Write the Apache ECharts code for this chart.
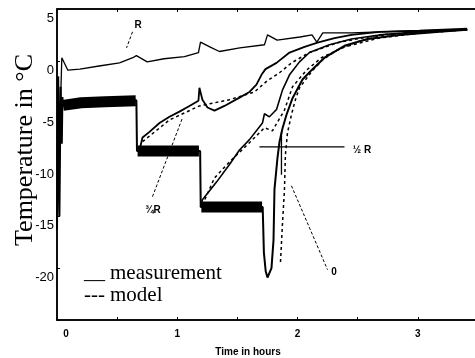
<!DOCTYPE html>
<html>
<head>
<meta charset="utf-8">
<script src="https://cdn.jsdelivr.net/npm/echarts@6/dist/echarts.min.js"></script>
<style>
  html, body { margin: 0; padding: 0; background: #fff; }
  #chart { width: 475px; height: 358px; }
</style>
</head>
<body>
<div id="chart"></div>
<script>
// time in hours, temperature in degC
var xTicks = [0, 1, 2, 3];
var yTicks = [-20, -15, -10, -5, 0, 5];

// curve "R"
var measR = [[0, -16.2], [0.04, 0.3], [0.09, -0.9], [0.19, -0.8], [0.35, -0.5], [0.52, -0.2], [0.63, 0.3],
    [0.66, 0.5], [0.75, -0.1], [0.89, 0.2], [1.06, 0.4], [1.176, 0.8], [1.193, 1.8], [1.27, 1.35],
    [1.35, 0.9], [1.52, 1.25], [1.725, 1.55], [1.75, 2.5], [1.83, 2.0], [2.02, 2.3], [2.12, 2.5],
    [2.16, 1.8], [2.21, 2.7], [2.45, 2.7], [2.68, 2.8], [3.01, 2.9], [3.41, 3.0]];

// stepped run, ends in curve "0"
var measZero = [[0, -16.2], [0.01, -1.5], [0.02, -15.0], [0.03, -2.5], [0.04, -8.0], [0.045, -3.5],
    [0.05, -4.3], [0.66, -3.8], [0.665, -8.7], [1.19, -8.7], [1.195, -14.1], [1.71, -14.1],
    [1.72, -18.5], [1.735, -20.3], [1.75, -20.9], [1.783, -20.0], [1.8, -17.3], [1.808, -12.4],
    [1.833, -9.35], [1.85, -7.8], [1.875, -6.5], [1.908, -5.2], [1.958, -3.6], [2.041, -1.8],
    [2.116, -0.9], [2.224, 0.3], [2.39, 1.45], [2.581, 2.1], [2.847, 2.5], [3.179, 2.8], [3.41, 3.0]];

// noisy set-point parts (drawn thick)
var noiseBand = [[0.05, -4.3], [0.2, -4.05], [0.4, -3.95], [0.655, -3.85], null,
    [0.67, -8.7], [1.18, -8.7], null, [1.2, -14.1], [1.705, -14.1]];

// curve "3/4 R"
var measR34 = [[0.686, -8.6], [0.711, -7.4], [0.769, -6.85], [0.852, -6.0], [0.935, -5.4], [1.018, -4.9],
    [1.101, -4.35], [1.176, -3.85], [1.184, -2.6], [1.209, -3.75], [1.251, -4.5], [1.309, -4.8],
    [1.392, -4.35], [1.517, -3.55], [1.6, -3.0], [1.658, -2.3], [1.7, -1.35], [1.733, -0.8],
    [1.825, -0.2], [1.933, 0.8], [2.058, 1.35], [2.166, 1.75], [2.307, 2.2], [2.448, 2.5],
    [2.681, 2.8], [3.013, 2.9], [3.41, 3.1]];

// curve "1/2 R"
var measR12 = [[1.193, -14.1], [1.209, -13.4], [1.326, -11.7], [1.434, -10.0], [1.517, -8.6], [1.6, -7.6],
    [1.708, -6.0], [1.725, -5.1], [1.766, -5.4], [1.825, -4.7], [1.875, -2.8], [1.933, -1.35],
    [2.016, -0.1], [2.099, 0.8], [2.265, 1.55], [2.448, 2.1], [2.681, 2.5], [3.013, 2.8], [3.41, 3.0]];

// model curves
var modelR34 = [[0.711, -7.8], [0.935, -5.7], [1.184, -4.35], [1.434, -3.75], [1.642, -3.0], [1.75, -1.9],
    [1.85, -1.15], [1.949, -0.2], [2.099, 0.8], [2.349, 1.8], [2.681, 2.5], [3.179, 2.9], [3.41, 3.0]];
var modelR12 = [[1.209, -13.9], [1.309, -11.3], [1.434, -9.75], [1.6, -7.9], [1.725, -6.45], [1.791, -6.75],
    [1.891, -4.75], [1.958, -2.5], [2.074, -0.9], [2.199, 0.3], [2.39, 1.35], [2.681, 2.2],
    [3.096, 2.8], [3.41, 3.0]];
var modelZero = [[1.858, -19.4], [1.874, -15.8], [1.891, -12.45], [1.899, -9.05], [1.916, -6.95],
    [1.949, -5.2], [1.982, -3.75], [2.016, -2.6], [2.116, -1.05], [2.207, 0.1], [2.332, 1.05],
    [2.498, 1.85], [2.722, 2.5], [3.179, 2.8], [3.41, 3.0]];

// pointer lines of the curve labels
var leaderR = [[0.628, 2.8], [0.578, 1.25]];
var leaderR34 = [[0.794, -13.1], [1.043, -5.5]];
var leaderZero = [[1.949, -12.05], [2.249, -20.15]];
var crossR12 = [[1.683, -8.3], [2.39, -8.3], null, [1.866, -6.9], [1.866, -11.0]];

function lineSeries(data, width, dash) {
    return {
        type: 'line',
        data: data,
        symbol: 'none',
        connectNulls: false,
        silent: true,
        lineStyle: { color: '#000', width: width, type: dash || 'solid' }
    };
}

var serif = '"Liberation Serif", "Times New Roman", serif';
var sans = '"Liberation Sans", Arial, sans-serif';

var myChart = echarts.init(document.getElementById('chart'));
var option = {
    animation: false,
    backgroundColor: '#fff',
    grid: {
        left: 57, top: 9, width: 421, height: 311,
        show: true, borderColor: '#000', borderWidth: 1.5,
        containLabel: false, outerBoundsMode: 'none'
    },
    xAxis: [{
        type: 'value', min: 0, max: 3.5, interval: 0.5, position: 'bottom',
        axisLine: { onZero: false, lineStyle: { color: '#000', width: 1.5 } },
        axisTick: { inside: true, length: 3, lineStyle: { color: '#000' } },
        splitLine: { show: false },
        axisLabel: {
            color: '#000', fontSize: 10, fontWeight: 'bold', fontFamily: sans, margin: 9,
            formatter: function (v) {
                if (v === 0) return '{z|0}';
                return xTicks.indexOf(v) >= 0 ? String(v) : '';
            },
            rich: { z: { padding: [0, 0, 0, 18], fontSize: 10, fontWeight: 'bold', fontFamily: sans, color: '#000' } }
        }
    }, {
        type: 'value', min: 0, max: 3.5, interval: 0.5, position: 'top',
        axisLine: { onZero: false, lineStyle: { color: '#000', width: 1.5 } },
        axisTick: { inside: true, length: 3, lineStyle: { color: '#000' } },
        splitLine: { show: false },
        axisLabel: { show: false }
    }],
    yAxis: {
        type: 'value', min: -25, max: 5, interval: 5,
        axisLine: { onZero: false, lineStyle: { color: '#000', width: 1.5 } },
        axisTick: { inside: true, length: 3, lineStyle: { color: '#000' } },
        splitLine: { show: false },
        axisLabel: {
            color: '#000', fontSize: 13, fontFamily: sans, margin: 3,
            verticalAlign: 'top', padding: [3, 0, 0, 0],
            formatter: function (v) { return yTicks.indexOf(v) >= 0 ? String(v) : ''; }
        }
    },
    series: [
        lineSeries(noiseBand, 11),
        lineSeries(measZero, 2),
        lineSeries(measR, 1.3),
        lineSeries(measR34, 1.8),
        lineSeries(measR12, 1.6),
        lineSeries(modelR34, 1.5, [3, 3]),
        lineSeries(modelR12, 1.5, [3, 3]),
        lineSeries(modelZero, 1.5, [3, 3]),
        lineSeries(leaderR, 1, [3, 2]),
        lineSeries(leaderR34, 1, [3, 2]),
        lineSeries(leaderZero, 1, [3, 2]),
        lineSeries(crossR12, 1.3)
    ],
    graphic: [
        { type: 'text', x: 25, y: 150, rotation: Math.PI / 2,
          style: { text: 'Temperature in \u00B0C', font: '26px ' + serif, fill: '#000', align: 'center', verticalAlign: 'middle' } },
        { type: 'text', x: 248, y: 352,
          style: { text: 'Time in hours', font: 'bold 10px ' + sans, fill: '#000', align: 'center', verticalAlign: 'middle' } },
        { type: 'text', x: 84, y: 272,
          style: { text: '__', font: '21px ' + serif, fill: '#000', verticalAlign: 'middle' } },
        { type: 'text', x: 110, y: 273,
          style: { text: 'measurement', font: '21px ' + serif, fill: '#000', verticalAlign: 'middle' } },
        { type: 'text', x: 84, y: 295,
          style: { text: '---', font: '21px ' + serif, fill: '#000', verticalAlign: 'middle' } },
        { type: 'text', x: 110, y: 295,
          style: { text: 'model', font: '21px ' + serif, fill: '#000', verticalAlign: 'middle' } },
        { type: 'text', x: 138, y: 25,
          style: { text: 'R', font: 'bold 10px ' + sans, fill: '#000', align: 'center', verticalAlign: 'middle' } },
        { type: 'text', x: 153, y: 210,
          style: { text: '\u00BER', font: 'bold 10px ' + sans, fill: '#000', align: 'center', verticalAlign: 'middle' } },
        { type: 'text', x: 362, y: 150,
          style: { text: '\u00BD R', font: 'bold 10px ' + sans, fill: '#000', align: 'center', verticalAlign: 'middle' } },
        { type: 'text', x: 334, y: 272,
          style: { text: '0', font: 'bold 10px ' + sans, fill: '#000', align: 'center', verticalAlign: 'middle' } }
    ]
};
myChart.setOption(option);
</script>
</body>
</html>
